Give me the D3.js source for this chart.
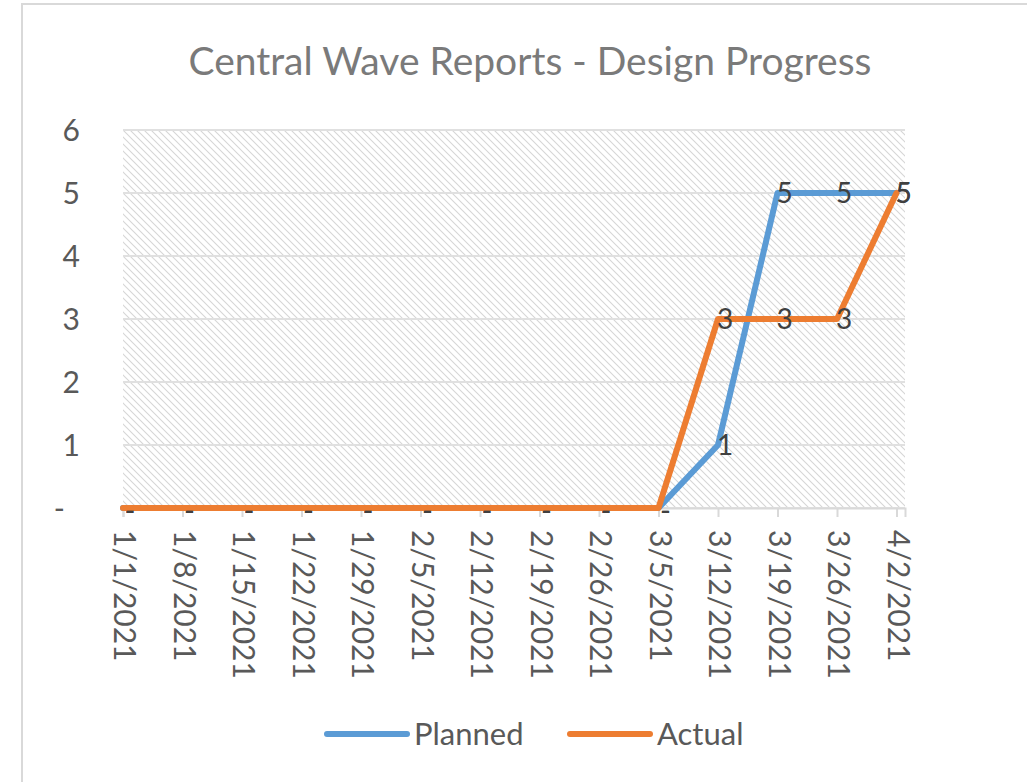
<!DOCTYPE html>
<html>
<head>
<meta charset="utf-8">
<script src="https://cdn.jsdelivr.net/npm/d3@7"></script>
<style>
  body { margin: 0; background: #fff; }
  svg { display: block; font-family: Lato, 'Open Sans', sans-serif; }
</style>
</head>
<body>
<svg id="chart" width="1027" height="782"></svg>
<script>
const dates = ['2021-01-01', '2021-01-08', '2021-01-15', '2021-01-22', '2021-01-29', '2021-02-05', '2021-02-12',
  '2021-02-19', '2021-02-26', '2021-03-05', '2021-03-12', '2021-03-19', '2021-03-26', '2021-04-02']
const planned = [0, 0, 0, 0, 0, 0, 0, 0, 0, 0, 1, 5, 5, 5]
const actual = [0, 0, 0, 0, 0, 0, 0, 0, 0, 0, 3, 3, 3, 5]
const yTicks = [0, 1, 2, 3, 4, 5, 6]
const seriesNames = ['Planned', 'Actual']
const title = 'Central Wave Reports - Design Progress'

const COLORS = { Planned: '#5b9bd5', Actual: '#ed7d31' }
const parse = d3.timeParse('%Y-%m-%d')
const fmtDate = d3.timeFormat('%-m/%-d/%Y')
const fmtVal = v => v === 0 ? '-' : d3.format(',')(v)

const days = dates.map(parse)
const series = [
  { name: 'Planned', values: planned },
  { name: 'Actual', values: actual }
]

const svg = d3.select('#chart')

// chart area border (runs off right / bottom like the screenshot)
svg.append('rect')
  .attr('x', 22).attr('y', 4)
  .attr('width', 1040).attr('height', 800)
  .attr('fill', '#fff')
  .attr('stroke', '#d9d9d9')
  .attr('stroke-width', 2)

const MARGINS = { left: 123, right: 905, top: 130, bottom: 508 }

const xScale = d3.scaleTime()
  .domain([days[0], d3.timeDay.offset(days[days.length - 1], 1)])
  .range([MARGINS.left, MARGINS.right])
const yScale = d3.scaleLinear()
  .domain([0, 6])
  .range([MARGINS.bottom, MARGINS.top])

// hatched plot background
const tile = 7
svg.append('defs').append('pattern')
  .attr('id', 'hatch')
  .attr('patternUnits', 'userSpaceOnUse')
  .attr('width', tile).attr('height', tile)
  .append('path')
  .attr('d', `M0,0L${tile},${tile}M-1,${tile - 1}L1,${tile + 1}M${tile - 1},-1L${tile + 1},1`)
  .attr('stroke', '#d6d6d6')
  .attr('stroke-width', 1.1)

svg.append('rect')
  .attr('x', MARGINS.left).attr('y', MARGINS.top)
  .attr('width', MARGINS.right - MARGINS.left)
  .attr('height', MARGINS.bottom - MARGINS.top)
  .attr('fill', 'url(#hatch)')

// gridlines
svg.append('g')
  .selectAll('line')
  .data(yTicks)
  .join('line')
  .attr('x1', MARGINS.left).attr('x2', MARGINS.right)
  .attr('y1', d => yScale(d)).attr('y2', d => yScale(d))
  .attr('stroke', '#e0e0e0')
  .attr('stroke-width', 2)

// x axis
const xAxis = d3.axisBottom(xScale)
  .tickValues(days)
  .tickSize(9)
  .tickPadding(0)
  .tickFormat('')
const xg = svg.append('g')
  .attr('transform', `translate(0, ${MARGINS.bottom})`)
  .call(xAxis)
xg.select('.domain').attr('stroke', '#d9d9d9').attr('stroke-width', 2)
xg.selectAll('.tick line').attr('stroke', '#d9d9d9').attr('stroke-width', 2)

svg.append('g')
  .selectAll('text')
  .data(days)
  .join('text')
  .attr('transform', d => `translate(${xScale(d) + 2}, 530) rotate(90)`)
  .attr('dy', '0.36em')
  .attr('text-anchor', 'start')
  .attr('font-size', 30)
  .attr('fill', '#595959')
  .text(d => fmtDate(d))

// y axis labels
svg.append('g')
  .selectAll('text')
  .data(yTicks)
  .join('text')
  .attr('x', d => d === 0 ? 65 : 80)
  .attr('y', d => yScale(d))
  .attr('dy', '0.36em')
  .attr('text-anchor', 'end')
  .attr('font-size', 30)
  .attr('fill', '#595959')
  .text(fmtVal)

// lines
const lineGen = d3.line()
  .x((d, i) => xScale(days[i]))
  .y(d => yScale(d))

svg.append('g')
  .selectAll('path')
  .data(series)
  .join('path')
  .attr('d', d => lineGen(d.values))
  .attr('fill', 'none')
  .attr('stroke', d => COLORS[d.name])
  .attr('stroke-width', 6)
  .attr('stroke-linejoin', 'round')
  .attr('stroke-linecap', 'round')

// data labels ("-" for zero sits a little lower, like the accounting format)
series.forEach(s => {
  svg.append('g')
    .selectAll('text')
    .data(s.values)
    .join('text')
    .attr('x', (d, i) => xScale(days[i]) + 7)
    .attr('y', d => yScale(d))
    .attr('dy', d => d === 0 ? '0.46em' : '0.36em')
    .attr('text-anchor', 'middle')
    .attr('font-size', 28)
    .attr('fill', '#404040')
    .text(fmtVal)
})

// title
svg.append('text')
  .attr('x', 530).attr('y', 75)
  .attr('text-anchor', 'middle')
  .attr('font-size', 39)
  .attr('fill', '#7a7a7a')
  .text(title)

// legend
const legendX = [327, 570]
const legend = svg.append('g')
  .selectAll('g')
  .data(seriesNames)
  .join('g')
  .attr('transform', (d, i) => `translate(${legendX[i]}, 734)`)
legend.append('line')
  .attr('x1', 0).attr('x2', 80)
  .attr('stroke', d => COLORS[d])
  .attr('stroke-width', 6)
  .attr('stroke-linecap', 'round')
legend.append('text')
  .attr('x', 87)
  .attr('dy', '0.36em')
  .attr('font-size', 31)
  .attr('fill', '#595959')
  .text(d => d)
</script>
</body>
</html>
